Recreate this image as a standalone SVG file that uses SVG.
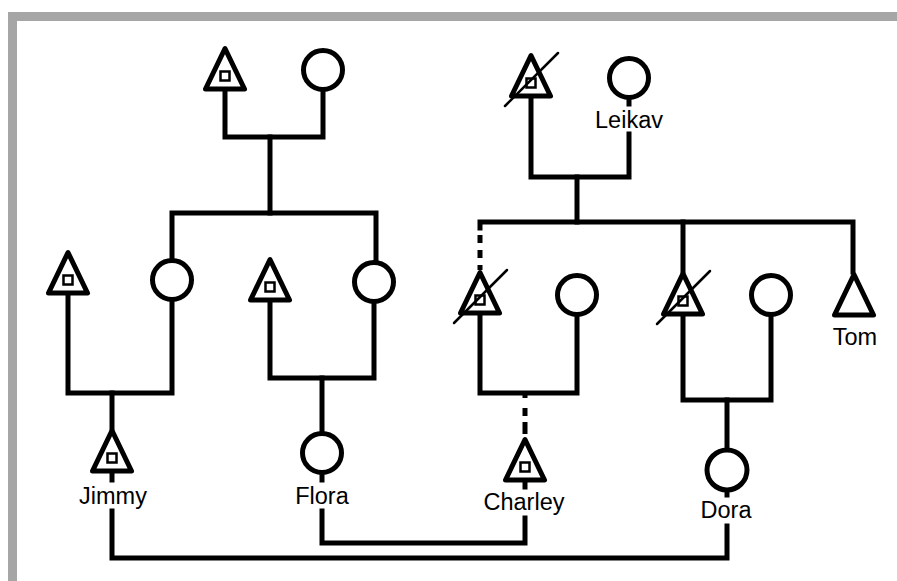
<svg xmlns="http://www.w3.org/2000/svg" xmlns:xlink="http://www.w3.org/1999/xlink" width="897" height="581" viewBox="0 0 897 581">
<style>
.ln{fill:none;stroke:#000;stroke-width:5;stroke-linecap:square;stroke-linejoin:miter}
.dash{fill:none;stroke:#000;stroke-width:5;stroke-linecap:butt}
.sym{fill:#fff;stroke:#000;stroke-width:5;stroke-linejoin:round}
.sq{fill:#fff;stroke:#000;stroke-width:2.5}
.sl{stroke:#000;stroke-width:2.5;stroke-linecap:round}
.lb{font-family:"Liberation Sans",Arial,sans-serif;font-size:23.5px;fill:#000;text-anchor:middle}
</style>
<defs>
<path id="tri" class="sym" d="M0,2.5 L19.5,43 L-19.5,43 Z"/>
<rect id="sqr" class="sq" x="-4.5" y="25.5" width="9" height="9"/>
<line id="slash" class="sl" x1="-26" y1="53" x2="27" y2="0"/>
</defs>
<rect x="8" y="12" width="889" height="569" fill="#a6a6a6"/>
<rect x="17" y="21" width="880" height="560" fill="#fff"/>
<g id="connectors">
<path class="ln" d="M225,91 V137 H323 V90"/>
<path class="ln" d="M270,137 V213"/>
<path class="ln" d="M172,258 V213 H376 V260"/>
<path class="ln" d="M68,293 V393 H172 V302"/>
<path class="ln" d="M112,393 V428"/>
<path class="ln" d="M112,473 V480"/>
<path class="ln" d="M112,511 V558 H727 V526"/>
<path class="ln" d="M270,301 V378 H374 V304"/>
<path class="ln" d="M322,378 V431"/>
<path class="ln" d="M322,475 V480"/>
<path class="ln" d="M322,511 V543 H525 V518"/>
<path class="ln" d="M629,100 V104"/>
<path class="ln" d="M629,134 V177 H531 V98"/>
<path class="ln" d="M577,177 V222"/>
<path class="ln" d="M480,228 V222 H853 V272"/>
<path class="ln" d="M683,222 V271"/>
<path class="dash" d="M480,228 V270" stroke-dasharray="0,7,8,7,8,7,8"/>
<path class="ln" d="M480,315 V393 H577 V317"/>
<path class="dash" d="M525,393 V438" stroke-dasharray="5,10,8,6,12,10"/>
<path class="ln" d="M525,480 V487"/>
<path class="ln" d="M683,316 V400 H771 V317"/>
<path class="ln" d="M727,400 V448"/>
<path class="ln" d="M727,492 V495"/>
</g>
<g id="gf1"><use xlink:href="#tri" x="225" y="46"/><use xlink:href="#sqr" x="225" y="46"/></g>
<g id="gm1"><circle class="sym" cx="323" cy="70" r="19.5"/></g>
<g id="gf2"><use xlink:href="#tri" x="531" y="53"/><use xlink:href="#sqr" x="531" y="53"/><use xlink:href="#slash" x="531" y="53"/></g>
<g id="leikav"><circle class="sym" cx="629" cy="78" r="19.5"/><text class="lb" x="629" y="128">Leikav</text></g>
<g id="f_jimmy"><use xlink:href="#tri" x="68" y="250"/><use xlink:href="#sqr" x="68" y="250"/></g>
<g id="m_jimmy"><circle class="sym" cx="172" cy="280" r="19.5"/></g>
<g id="f_flora"><use xlink:href="#tri" x="270" y="257"/><use xlink:href="#sqr" x="270" y="257"/></g>
<g id="m_flora"><circle class="sym" cx="374" cy="282" r="19.5"/></g>
<g id="f_charley"><use xlink:href="#tri" x="480" y="270"/><use xlink:href="#sqr" x="480" y="270"/><use xlink:href="#slash" x="480" y="270"/></g>
<g id="m_charley"><circle class="sym" cx="577" cy="295" r="19.5"/></g>
<g id="f_dora"><use xlink:href="#tri" x="683" y="271"/><use xlink:href="#sqr" x="683" y="271"/><use xlink:href="#slash" x="683" y="271"/></g>
<g id="m_dora"><circle class="sym" cx="771" cy="295" r="19.5"/></g>
<g id="tom"><use xlink:href="#tri" x="854" y="272"/><text class="lb" x="855" y="345">Tom</text></g>
<g id="jimmy"><use xlink:href="#tri" x="112" y="428"/><use xlink:href="#sqr" x="112" y="428"/><text class="lb" x="113" y="504">Jimmy</text></g>
<g id="flora"><circle class="sym" cx="322" cy="453" r="19.5"/><text class="lb" x="322" y="504">Flora</text></g>
<g id="charley"><use xlink:href="#tri" x="525" y="437"/><use xlink:href="#sqr" x="525" y="437"/><text class="lb" x="524" y="510">Charley</text></g>
<g id="dora"><circle class="sym" cx="727" cy="470" r="20"/><text class="lb" x="726" y="518">Dora</text></g>
</svg>
